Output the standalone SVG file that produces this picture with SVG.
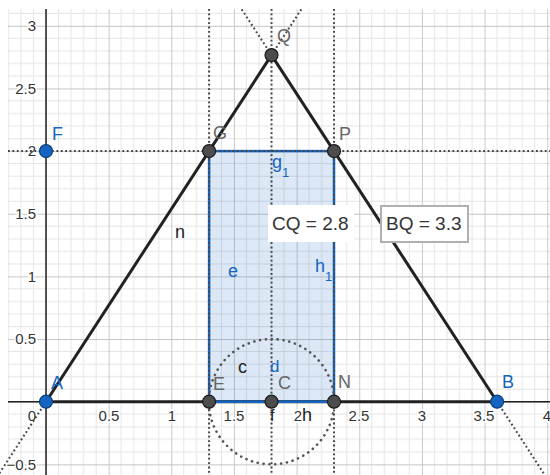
<svg xmlns="http://www.w3.org/2000/svg" width="550" height="475" viewBox="0 0 550 475">
<defs>
<pattern id="grid" patternUnits="userSpaceOnUse" x="46" y="401.7" width="62.65" height="62.65">
<g stroke="#e4e4e4" stroke-width="1" fill="none">
<line x1="12.53" y1="0" x2="12.53" y2="62.65"/><line x1="25.06" y1="0" x2="25.06" y2="62.65"/><line x1="37.59" y1="0" x2="37.59" y2="62.65"/><line x1="50.12" y1="0" x2="50.12" y2="62.65"/>
<line x1="0" y1="12.53" x2="62.65" y2="12.53"/><line x1="0" y1="25.06" x2="62.65" y2="25.06"/><line x1="0" y1="37.59" x2="62.65" y2="37.59"/><line x1="0" y1="50.12" x2="62.65" y2="50.12"/>
</g>
<g stroke="#c4c4c4" stroke-width="1.2"><line x1="0.3" y1="0" x2="0.3" y2="62.65"/><line x1="0" y1="0.3" x2="62.65" y2="0.3"/></g>
</pattern>
</defs>
<style>
.ax{font-family:"Liberation Sans",Arial,sans-serif;font-size:15px;fill:#333;stroke:#fff;stroke-width:3px;paint-order:stroke}
.pl{font-family:"Liberation Sans",Arial,sans-serif;font-size:18px}
.gray{fill:#666}
.blue{fill:#1565c0}
.blk{fill:#222}
.dot{stroke:#444;stroke-width:2;stroke-dasharray:1.8 2.6;fill:none}
.seg{stroke:#222;stroke-width:3;stroke-linecap:round;fill:none}
.ptg{fill:#4d4d4d;stroke:#1a1a1a;stroke-width:1.2}
.ptb{fill:#1565c0;stroke:#0d3f7c;stroke-width:1.2}
.val{font-family:"Liberation Sans",Arial,sans-serif;font-size:19px;fill:#333}
</style>
<rect x="0" y="0" width="550" height="475" fill="#fff"/>
<rect x="8" y="9" width="542" height="466" fill="url(#grid)"/>
<g id="axes" stroke="#222" stroke-width="1.5">
<line x1="46" y1="9" x2="46" y2="475"/>
<line x1="8" y1="401.7" x2="550" y2="401.7"/>
</g>
<g id="axis-labels" class="ax">
<text x="36" y="31" text-anchor="end">3</text>
<text x="36" y="93.6" text-anchor="end">2.5</text>
<text x="36" y="156.3" text-anchor="end">2</text>
<text x="36" y="218.9" text-anchor="end">1.5</text>
<text x="36" y="281.6" text-anchor="end">1</text>
<text x="36" y="344.2" text-anchor="end">0.5</text>
<text x="36" y="469.6" text-anchor="end">−0.5</text>
<text x="32" y="421" text-anchor="middle">0</text>
<text x="109" y="421" text-anchor="middle">0.5</text>
<text x="172" y="421" text-anchor="middle">1</text>
<text x="234" y="421" text-anchor="middle">1.5</text>
<text x="298" y="421" text-anchor="middle">2</text>
<text x="359" y="421" text-anchor="middle">2.5</text>
<text x="422" y="421" text-anchor="middle">3</text>
<text x="484" y="421" text-anchor="middle">3.5</text>
<text x="547" y="421" text-anchor="middle">4</text>
</g>
<g id="rectangle">
<rect x="209.1" y="151.1" width="124.9" height="250.6" fill="#1565c0" fill-opacity="0.15" stroke="#1565c0" stroke-width="2.5"/>
</g>
<g id="connectors">
<line class="dot" x1="209.1" y1="9" x2="209.1" y2="475"/>
<line class="dot" x1="271.5" y1="9" x2="271.5" y2="475"/>
<line class="dot" x1="334" y1="9" x2="334" y2="475"/>
<line class="dot" x1="8" y1="151.1" x2="550" y2="151.1"/>
<line class="dot" x1="271.5" y1="55.1" x2="301.5" y2="9"/>
<line class="dot" x1="271.5" y1="55.1" x2="241.5" y2="9"/>
<line class="dot" x1="46" y1="401.7" x2="-1.7" y2="475"/>
<line class="dot" x1="497.1" y1="401.7" x2="544.8" y2="475"/>
<circle cx="271.5" cy="401.7" r="62.65" fill="none" stroke="#555" stroke-width="2.6" stroke-linecap="round" stroke-dasharray="0.1 5.8"/>
<line class="seg" x1="46" y1="401.7" x2="497.1" y2="401.7"/>
<line class="seg" x1="46" y1="401.7" x2="271.5" y2="55.1"/>
<line class="seg" x1="271.5" y1="55.1" x2="497.1" y2="401.7"/>
<line x1="209.1" y1="401.7" x2="334" y2="401.7" stroke="#1565c0" stroke-width="2.5"/>
</g>
<g id="seg-labels" class="pl">
<text class="blk" x="175" y="238">n</text>
<text class="blue" x="228" y="277">e</text>
<text class="blue" x="272" y="168">g<tspan font-size="13" dy="9">1</tspan></text>
<text class="blue" x="315" y="272">h<tspan font-size="13" dy="9">1</tspan></text>
<text class="blk" x="238" y="373">c</text>
<text class="blue" x="270" y="372" font-size="17">d</text>
<text class="blk" x="302" y="421">h</text>
<text class="blk" x="270" y="421" font-size="16">f</text>
</g>
<g id="CQ">
<rect x="268" y="205" width="86" height="37" fill="#fff"/>
<text class="val" x="272" y="230">CQ = 2.8</text>
</g>
<g id="BQ">
<rect x="381" y="206" width="87" height="36" fill="#fff" stroke="#b0b0b0" stroke-width="2"/>
<text class="val" x="386" y="230">BQ = 3.3</text>
</g>
<g id="A"><circle class="ptb" cx="46" cy="401.7" r="6.5"/><text class="pl blue" x="51" y="389">A</text></g>
<g id="B"><circle class="ptb" cx="497.1" cy="401.7" r="6.5"/><text class="pl blue" x="502" y="388">B</text></g>
<g id="F"><circle class="ptb" cx="46" cy="151.1" r="6.5"/><text class="pl blue" x="52" y="140">F</text></g>
<g id="E"><circle class="ptg" cx="209.1" cy="401.7" r="6.5"/><text class="pl gray" x="213" y="390">E</text></g>
<g id="C"><circle class="ptg" cx="271.5" cy="401.7" r="6.5"/><text class="pl gray" x="278" y="389">C</text></g>
<g id="N"><circle class="ptg" cx="334" cy="401.7" r="6.5"/><text class="pl gray" x="338" y="388">N</text></g>
<g id="G"><circle class="ptg" cx="209.1" cy="151.1" r="6.5"/><text class="pl gray" x="213" y="139">G</text></g>
<g id="P"><circle class="ptg" cx="334" cy="151.1" r="6.5"/><text class="pl gray" x="339" y="140">P</text></g>
<g id="Q"><circle class="ptg" cx="271.5" cy="55.1" r="6.5"/><text class="pl gray" x="277" y="42">Q</text></g>
</svg>
